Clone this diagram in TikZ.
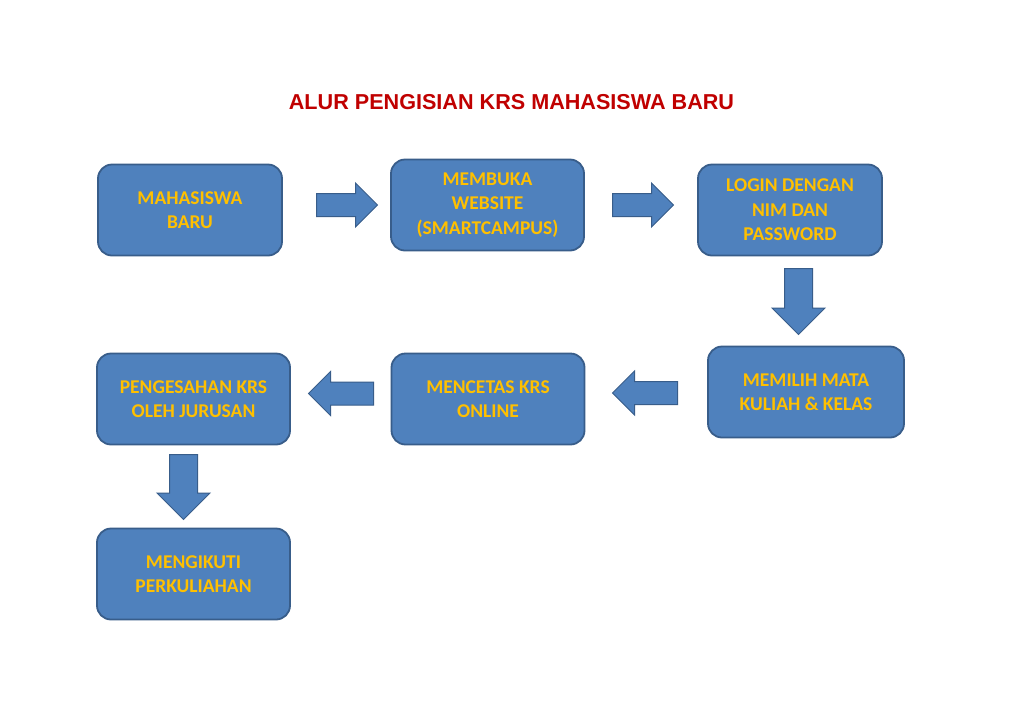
\documentclass[tikz,border=0pt]{standalone}
\usepackage{fontspec}
\setmainfont{Carlito}
\newfontfamily\titlefont{Liberation Sans}
\usetikzlibrary{shapes.arrows}

\definecolor{boxblue}{HTML}{4F81BD}
\definecolor{boxedge}{HTML}{385D8A}
\definecolor{boxtext}{HTML}{FFC000}
\definecolor{titlered}{HTML}{C00000}

\tikzset{
    krsbox/.style={draw=boxedge, line width=1.8pt, fill=boxblue, rounded corners=14pt,
        align=center, text=boxtext, font=\bfseries\fontsize{19.5}{24.5}\selectfont,
        minimum height=91pt, inner sep=0pt},
    flowarrow/.style={single arrow, draw=boxedge, line width=1pt, fill=boxblue, anchor=tail,
        inner xsep=0pt, inner ysep=11pt, single arrow head extend=10.5pt,
        minimum width=42pt, minimum height=61pt},
    downarrow/.style={flowarrow, rotate=-90, inner ysep=13.5pt, single arrow head extend=12.5pt,
        minimum width=52pt, minimum height=66pt},
}

\begin{document}
\begin{tikzpicture}[x=1pt, y=-1pt]
    \useasboundingbox[fill=white] (0,0) rectangle (1024,724);

    % Title.
    \node[anchor=base, text=titlered, font=\titlefont\bfseries\fontsize{21.6}{26}\selectfont]
        (title) at (511.5,109) {ALUR PENGISIAN KRS MAHASISWA BARU};

    % Upper row.
    \node[krsbox, minimum width=184pt] (baru)   at (190,210)   {MAHASISWA\\BARU};
    \node[krsbox, minimum width=193pt] (web)    at (487.5,205) {MEMBUKA\\WEBSITE\\(SMARTCAMPUS)};
    \node[krsbox, minimum width=184pt] (login)  at (790,210)   {LOGIN DENGAN\\NIM DAN\\PASSWORD};

    % Lower rows.
    \node[krsbox, minimum width=196pt] (matkul) at (806,392)   {MEMILIH MATA\\KULIAH \& KELAS};
    \node[krsbox, minimum width=193pt] (cetak)  at (488,399)   {MENCETAS KRS\\ONLINE};
    \node[krsbox, minimum width=193pt] (sah)    at (193.5,399) {PENGESAHAN KRS\\OLEH JURUSAN};
    \node[krsbox, minimum width=193pt] (kuliah) at (193.5,574) {MENGIKUTI\\PERKULIAHAN};

    % Block arrows between the boxes (placed by their tails).
    \node[flowarrow] (a1) at (316,205) {};
    \node[flowarrow] (a2) at (612,205) {};
    \node[downarrow] (a3) at (798.5,268) {};
    \node[flowarrow, rotate=180, minimum height=65pt] (a4) at (678,393) {};
    \node[flowarrow, rotate=180, minimum height=65pt] (a5) at (374,393.5) {};
    \node[downarrow, minimum height=65pt] (a6) at (183.5,454) {};

\end{tikzpicture}
\end{document}
